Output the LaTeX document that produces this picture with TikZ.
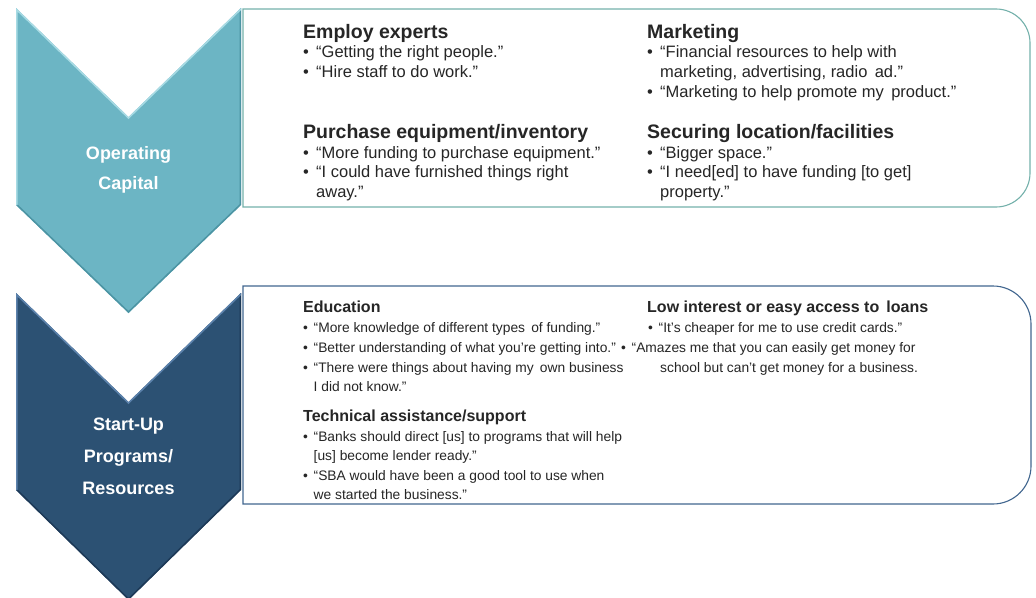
\documentclass[tikz,border=0pt]{standalone}
\usepackage{fontspec}
\setmainfont{Liberation Sans}
\definecolor{ink}{HTML}{262626}
\definecolor{tealfill}{HTML}{6CB5C4}
\definecolor{teallight}{HTML}{A8DBE4}
\definecolor{tealdark}{HTML}{4C94A3}
\definecolor{navyfill}{HTML}{2C5173}
\definecolor{navylight}{HTML}{5C82AC}
\definecolor{navydark}{HTML}{1D3957}
\definecolor{tealline}{HTML}{74B1AB}
\definecolor{navyline}{HTML}{41668F}
\newcommand\hdtop{\fontsize{19.5}{22}\selectfont\bfseries}
\newcommand\bdtop{\fontsize{16.5}{20}\selectfont}
\newcommand\hdbot{\fontsize{16}{19}\selectfont\bfseries}
\newcommand\bdbot{\fontsize{13.8}{17}\selectfont}
\newcommand\chevfont{\fontsize{18}{21}\selectfont\bfseries}
\newcommand\bulA{\makebox[13pt][l]{•}}
\newcommand\bulB{\makebox[10.5pt][l]{•}}
\begin{document}
\begin{tikzpicture}[x=1pt,y=-1pt,
  htop/.style={anchor=base west,inner sep=0pt,text=ink,font=\hdtop},
  btop/.style={anchor=base west,inner sep=0pt,text=ink,font=\bdtop},
  hbot/.style={anchor=base west,inner sep=0pt,text=ink,font=\hdbot},
  bbot/.style={anchor=base west,inner sep=0pt,text=ink,font=\bdbot},
  chevlabel/.style={anchor=base,inner sep=0pt,text=white,font=\chevfont},
  panelA/.style={draw=tealline,line width=1.1pt,fill=white},
  panelB/.style={draw=navyline,line width=1.1pt,fill=white}]
\useasboundingbox (0,0) rectangle (1036,597);

% ---- chevron: Operating Capital ----
\def\chevA{(16,8) -- (128.5,117) -- (241,8) -- (241,205) -- (128.5,313) -- (16,205) -- cycle}
\fill[tealfill] \chevA;
\begin{scope}
  \clip \chevA;
  \draw[tealdark,line width=3pt] (241,8) -- (241,205) -- (128.5,313) -- (16,205);
  \draw[teallight,line width=3pt] (16,205) -- (16,8) -- (128.5,117) -- (241,8);
\end{scope}

% ---- chevron: Start-Up Programs/Resources ----
\def\chevB{(16,293) -- (128.5,402) -- (241,293) -- (241,490) -- (128.5,600) -- (16,490) -- cycle}
\fill[navyfill] \chevB;
\begin{scope}
  \clip \chevB;
  \draw[navydark,line width=3pt] (241,293) -- (241,490) -- (128.5,600) -- (16,490);
  \draw[navylight,line width=3pt] (16,490) -- (16,293) -- (128.5,402) -- (241,293);
\end{scope}

% ---- panels with rounded right corners ----
\draw[panelA] (243,9) -- (996,9) .. controls (1014.8,9) and (1030,24.2) .. (1030,43)
  -- (1030,173) .. controls (1030,191.8) and (1014.8,207) .. (996,207) -- (243,207) -- cycle;
\draw[panelB] (243,286) -- (993,286) .. controls (1014,286) and (1031,303) .. (1031,324)
  -- (1031,466) .. controls (1031,487) and (1014,504) .. (993,504) -- (243,504) -- cycle;

% ---- chevron labels ----
\node[chevlabel] (oc1) at (128.5,159.5) {Operating};
\node[chevlabel] (oc2) at (128.5,189.5) {Capital};
\node[chevlabel] (su1) at (128.5,430.5) {Start-Up};
\node[chevlabel] (su2) at (128.5,462.5) {Programs/};
\node[chevlabel] (su3) at (128.5,494.5) {Resources};

% ---- Operating capital: left column ----
\node[htop] (empH) at (303,38) {Employ experts};
\node[btop] (emp1) at (303,57) {\bulA“Getting the right people.”};
\node[btop] (emp2) at (303,77) {\bulA“Hire staff to do work.”};
\node[htop] (purH) at (303,138) {Purchase equipment/inventory};
\node[btop] (pur1) at (303,158) {\bulA“More funding to purchase equipment.”};
\node[btop] (pur2) at (303,177) {\bulA“I could have furnished things right};
\node[btop] (pur3) at (316,197) {away.”};

% ---- Operating capital: right column ----
\node[htop] (mkH) at (647,38) {Marketing};
\node[btop] (mk1) at (647,57) {\bulA“Financial resources to help with};
\node[btop] (mk2) at (660,77) {marketing, advertising, radio\ \,ad.”};
\node[btop] (mk3) at (647,97) {\bulA“Marketing to help promote my\ \,product.”};
\node[htop] (locH) at (647,138) {Securing location/facilities};
\node[btop] (loc1) at (647,158) {\bulA“Bigger space.”};
\node[btop] (loc2) at (647,177) {\bulA“I need[ed] to have funding [to get]};
\node[btop] (loc3) at (660,197) {property.”};

% ---- Start-up programs: left column ----
\node[hbot] (eduH) at (303,312) {Education};
\node[bbot] (edu1) at (303,332) {\bulB“More knowledge of different types\ \,of funding.”};
\node[bbot] (edu2) at (303,352) {\bulB“Better understanding of what you’re getting into.”};
\node[bbot] (edu3) at (303,372) {\bulB“There were things about having my\ \,own business};
\node[bbot] (edu4) at (313.5,391) {I did not know.”};
\node[hbot] (tecH) at (303,421) {Technical assistance/support};
\node[bbot] (tec1) at (303,441) {\bulB“Banks should direct [us] to programs that will help};
\node[bbot] (tec2) at (313.5,460) {[us] become lender ready.”};
\node[bbot] (tec3) at (303,480) {\bulB“SBA would have been a good tool to use when};
\node[bbot] (tec4) at (313.5,499) {we started the business.”};

% ---- Start-up programs: right column ----
\node[hbot] (loanH) at (647,312) {Low interest or easy access to\ \,loans};
\node[bbot] (loan1) at (648,332) {\bulB“It’s cheaper for me to use credit cards.”};
\node[bbot] (loan2) at (621,352) {\bulB“Amazes me that you can easily get money for};
\node[bbot] (loan3) at (660,372) {school but can’t get money for a business.};
\end{tikzpicture}
\end{document}
